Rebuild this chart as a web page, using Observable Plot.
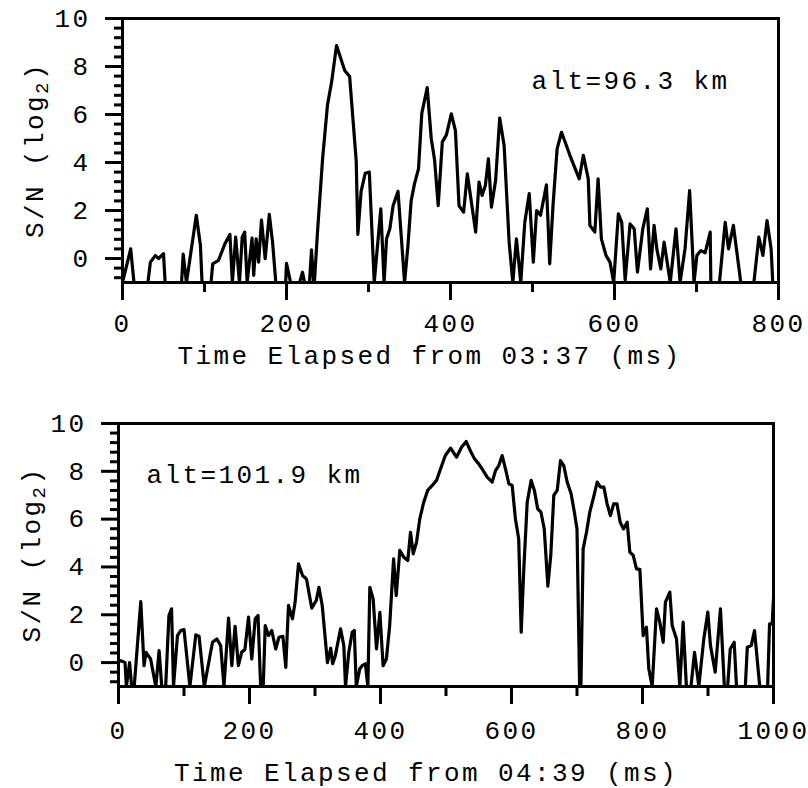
<!DOCTYPE html>
<html><head><meta charset="utf-8">
<script src="https://cdn.jsdelivr.net/npm/d3@7"></script>
<script src="https://cdn.jsdelivr.net/npm/@observablehq/plot@0.6"></script>
<style>
body{margin:0;background:#fff;}
#c svg{display:block;}
#c svg text{letter-spacing:2.4px;}
</style></head><body><div id="c"></div>
<script>
// ---- Top panel (03:37, alt=96.3 km) ----
const timeTop = [0,10,14,31,34,40,44,50,52,72,74,78,90,95,97,108,110,117,125,131,134,138,142.6,146,149,152,158,160,163,166,169.5,174,179,183,187,199,200,205,216,219.5,222,228,230.5,233,234,238,244,250,255,261,271,277,285,287,291,296,301,307,315,319,322,326,330,336,344,348,352,356,361,365,371.6,376.5,380.6,385,390,395,401,406,410.4,416,420.5,430.7,434.8,438.5,442.5,446.2,449.9,455,460,465.4,471.5,476,480.4,485.7,490.6,496,501,505,509.8,517,521,525,530,535.4,545.6,557,562,568,570,576,580,584,589.6,594.5,599,604.7,608.8,613,619,624,628,634.5,640,644,648.3,651.6,656.5,660.5,668,675,680,686,691.6,697,700.5,705.4,710.6,716.7,717.5,728,735,739,745,754,770,776,781,786,791,793,800];
const snrTop = [-1,0.4,-1,-1,-0.15,0.12,0,0.2,-1,-1,0.18,-1,1.8,0.55,-1,-1,-0.22,-0.08,0.62,1.0,-1,0.89,-1,0.89,1.1,-1,0.85,-0.7,0.82,-0.15,1.6,-0.01,1.84,0.68,-1,-1,-0.2,-1,-1,-0.57,-1,-1,0.36,-1,-1,1.2,4.15,6.4,7.35,8.87,7.83,7.58,4.08,1.0,2.8,3.55,3.6,-1,2.07,-1,0.82,1.24,2.2,2.8,-1,0.5,2.4,3.1,3.74,6.05,7.12,5.0,4.1,2.2,4.85,5.15,6.03,5.33,2.2,1.93,3.53,1.1,3.18,2.63,3.04,4.15,2.14,3.25,5.85,4.71,0.68,-1,0.82,-1,1.51,2.7,-0.15,2.0,1.8,3.07,-0.22,2.2,4.57,5.26,4.3,3.32,4.3,3.32,1.38,1.1,3.32,0.82,0.13,-0.15,-1,1.86,1.51,-0.9,1.44,1.24,-0.57,1.24,2.07,-0.43,1.38,0.4,-0.43,0.68,-1,1.24,-1,0.4,2.83,-1,0.13,0.33,0.24,1.1,-1,-1,1.51,0.4,1.38,-1,-1,0.89,0.13,1.58,0.4,-1,-1];
const xTicksTop = [0,200,400,600,800];
const xMinorTop = [100,300,500,700];
const titleTop = "Time Elapsed from 03:37 (ms)";
const altTop = "alt=96.3 km";

// ---- Bottom panel (04:39, alt=101.9 km) ----
const timeBot = [0,6,10,12,17,20,24,34,39,42,49,57,62,66,72,77,81,84,90,95,100,109,118,123,131,143.5,150,156,161,168,173,178,183,188,193,198.5,203.5,208.7,213,217,221,224,229,234,240,245,251,255.4,259.5,265.6,269.7,274.8,281,287,295,302,306,311,319,324,327,331,339,344,346.6,351.6,356.8,360,363,368.4,372,377,380.7,383.7,388.8,393.9,399,404,409,414,420,424,429.5,435.6,441.7,445.8,450,455,460,466,472,479,485.5,491.6,499,507,516,523.7,530.8,537,543.5,550,556.8,562.9,570.5,575.6,580.6,585.8,590.8,596,601,606,611,614.8,618.8,624,630,635,640,645,650,655.5,660,664.6,669.8,674.8,679.8,685,691,696,700,704,706,709.4,714.5,719.5,724.7,730.8,735.9,741,746,751,756,761,766,771,776.6,780.7,785.8,790.8,796,801,806,809.6,814.8,821.4,826.4,831.6,835,841.7,845.3,851.9,857,862,867,874,879.4,886,893.6,899.7,903.8,911,919,925,930,934,940,943.5,957,960,966,971,979,991,994,998,1000];
const snrBot = [0.1,0.05,0,-1,0,-1,-1,2.55,-0.13,0.43,0.15,-1,0.5,-1,-1,1.97,2.25,-1,1.13,1.34,1.38,-1,1.16,1.1,-1,0.85,0.99,0.71,-1,1.86,-0.13,1.52,-0.13,0.43,0.55,1.9,0.15,1.83,1.97,-1,-1,1.55,1.13,1.34,0.57,1.06,1.1,-0.2,2.39,1.83,2.55,4.13,3.64,3.5,2.28,2.6,3.15,2.39,0,0.6,-0.05,0.29,1.41,0.71,-1,0.43,1.27,1.34,-1,-0.26,-0.13,-0.05,-1,3.15,2.66,0.57,2.1,-0.13,0.15,1.55,4.34,2.8,4.69,4.41,4.27,5.45,4.55,5.04,6.01,6.71,7.2,7.41,7.62,8.1,8.66,8.97,8.59,9.01,9.25,8.87,8.52,8.31,8.03,7.76,7.55,8.03,8.24,8.66,8.1,7.48,7.41,6.01,5.18,1.27,3.92,6.71,7.62,7.2,6.43,6.29,5.59,3.2,4.5,7.0,7.2,8.45,8.24,7.55,7.06,6.29,5.59,-1,-1,4.76,5.45,6.29,6.85,7.55,7.34,7.34,6.64,6.15,6.64,6.64,5.87,5.59,5.87,4.62,4.48,3.92,3.9,1.13,1.48,-0.26,-1,2.25,1.69,0.85,2.53,2.95,1.55,0.99,-1,1.69,-1,-1,0.43,-1,0.99,2.11,0.71,-0.4,2.25,-1,-1,0.57,0.85,-1,-1,0.64,0.71,1.34,-1,-1,1.62,1.62,2.7];
const xTicksBot = [0,200,400,600,800,1000];
const xMinorBot = [100,300,500,700,900];
const titleBot = "Time Elapsed from 04:39 (ms)";
const altBot = "alt=101.9 km";

// ---- shared y axis ----
const yTicks = [0,2,4,6,8,10];
const yMinor = [-0.8,-0.4,0.4,0.8,1.2,1.6,2.4,2.8,3.2,3.6,4.4,4.8,5.2,5.6,6.4,6.8,7.2,7.6,8.4,8.8,9.2,9.6];
const yLabelMain = "S/N (log";
const yLabelSub = "2";
const yLabelEnd = ")";

const FONT = "'Liberation Mono','Courier New',monospace";
const FS = 26;

function panel(cfg) {
  const data = cfg.time.map((t, i) => ({t, v: cfg.snr[i]}));
  const chart = Plot.plot({
    width: 808, height: cfg.height,
    marginTop: cfg.mt, marginBottom: cfg.mb, marginLeft: cfg.ml, marginRight: cfg.mr,
    style: {fontFamily: FONT, fontSize: FS + "px", color: "black", background: "white", overflow: "visible"},
    x: {domain: cfg.xDomain, label: null},
    y: {domain: [-1, 10], label: null},
    marks: [
      Plot.axisY({ticks: yMinor, tickSize: 8, tickFormat: () => "", strokeWidth: 3, label: null}),
      Plot.axisY({ticks: yTicks, tickSize: 17, tickPadding: 15, strokeWidth: 3, label: null, fontSize: FS, tickFormat: d => String(d)}),
      Plot.axisX({ticks: cfg.xMinor, tickSize: 10, tickFormat: () => "", strokeWidth: 3, label: null}),
      Plot.axisX({ticks: cfg.xTicks, tickSize: 18, tickPadding: cfg.tickPad, strokeWidth: 3, label: null, fontSize: FS, tickFormat: d => String(d)}),
      Plot.line(data, {x: "t", y: "v", stroke: "black", strokeWidth: 3.2, clip: true}),
      Plot.frame({stroke: "black", strokeWidth: 3}),
      Plot.text([cfg.title], {frameAnchor: "bottom", lineAnchor: "middle", dx: cfg.titleDx, dy: cfg.titleDy, fontSize: FS}),
      Plot.text([cfg.alt], {frameAnchor: "top-left", textAnchor: "start", lineAnchor: "middle", dx: cfg.altDx, dy: cfg.altDy, fontSize: FS})
    ]
  });
  const svg = d3.select(chart);
  const cy = cfg.mt + (cfg.height - cfg.mt - cfg.mb) / 2;
  const lab = svg.append("text")
    .attr("transform", `translate(${cfg.labelX},${cy}) rotate(-90)`)
    .attr("text-anchor", "middle")
    .attr("fill", "black")
    .style("font-family", FONT)
    .style("font-size", FS + "px");
  lab.append("tspan").text(yLabelMain);
  lab.append("tspan").attr("dy", 5).style("font-size", "19px").text(yLabelSub);
  lab.append("tspan").attr("dy", -5).text(yLabelEnd);
  return chart;
}

const c = document.getElementById("c");
c.appendChild(panel({
  time: timeTop, snr: snrTop, xDomain: [0, 800], xTicks: xTicksTop, xMinor: xMinorTop,
  title: titleTop, alt: altTop, height: 400, mt: 18, mb: 118, ml: 122, mr: 30, tickPad: 13,
  titleDx: -21, titleDy: 73, altDx: 409, altDy: 62, labelX: 43
}));
c.appendChild(panel({
  time: timeBot, snr: snrBot, xDomain: [0, 1000], xTicks: xTicksBot, xMinor: xMinorBot,
  title: titleBot, alt: altBot, height: 388, mt: 23, mb: 102, ml: 118, mr: 35, tickPad: 16,
  titleDx: -20, titleDy: 86, altDx: 28, altDy: 51, labelX: 40
}));
</script></body></html>
